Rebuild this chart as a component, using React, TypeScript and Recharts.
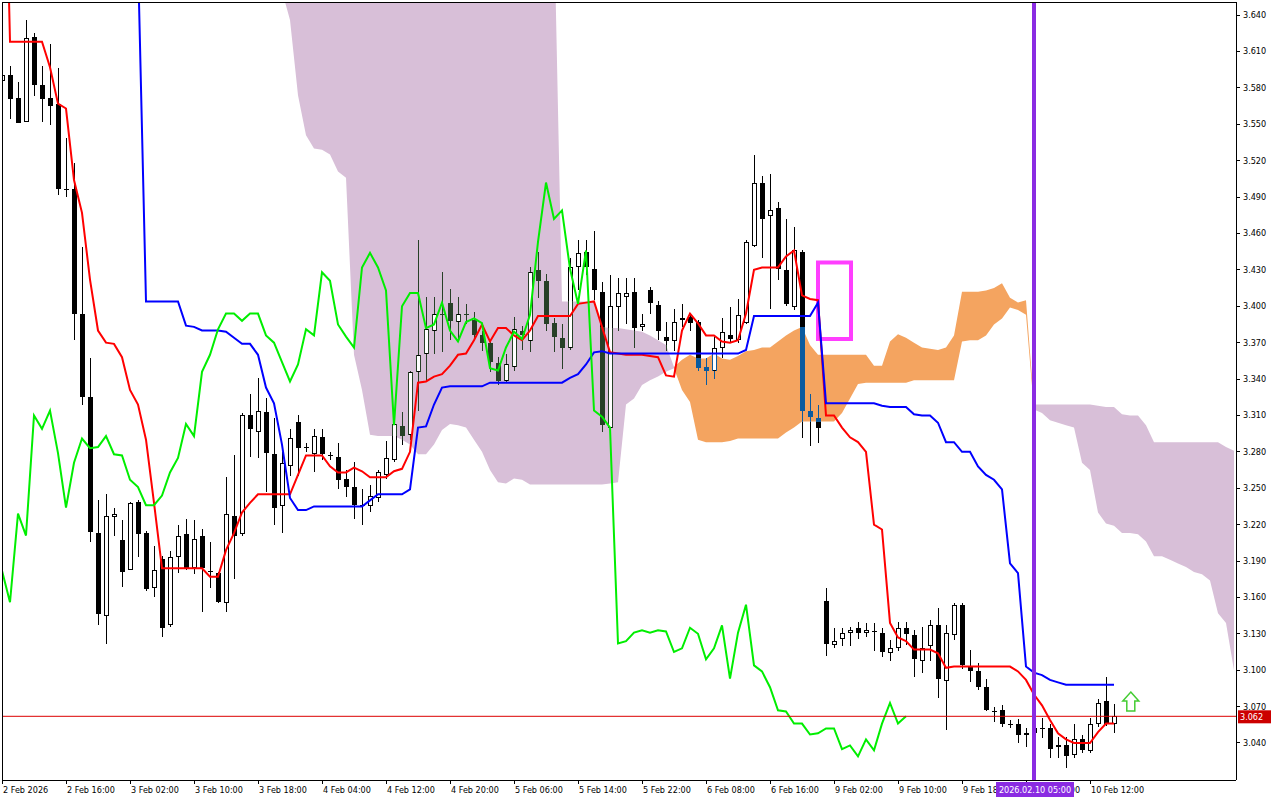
import React from 'react';
import {
  ComposedChart,
  XAxis,
  YAxis,
  Bar,
  Line,
  Area,
  ReferenceLine,
  ReferenceArea,
  ReferenceDot,
} from 'recharts';

const FONT = "'DejaVu Sans Condensed', 'DejaVu Sans', sans-serif";

// H1 candles (bar 0 = 2 Feb 2026)
const barOpen = [
  3.586, 3.591, 3.572, 3.552, 3.622, 3.582, 3.572, 3.567, 3.497, 3.497,
  3.394, 3.325, 3.213, 3.145, 3.226, 3.207, 3.183, 3.239, 3.213, 3.168,
  3.192, 3.137, 3.193, 3.212, 3.184, 3.211, 3.182, 3.180, 3.155, 3.227,
  3.212, 3.310, 3.296, 3.313, 3.278, 3.235, 3.268, 3.305, 3.284, 3.278,
  3.292, 3.277, 3.276, 3.258, 3.251, 3.236, 3.235, 3.242, 3.261, 3.273,
  3.301, 3.294, 3.346, 3.361, 3.380, 3.394, 3.403, 3.387, 3.394, 3.389,
  3.376, 3.370, 3.353, 3.338, 3.350, 3.380, 3.371, 3.430, 3.421, 3.386,
  3.374, 3.366, 3.432, 3.445, 3.431, 3.412, 3.300, 3.399, 3.408, 3.412,
  3.383, 3.413, 3.401, 3.375, 3.371, 3.389, 3.391, 3.387, 3.350, 3.347,
  3.366, 3.376, 3.372, 3.386, 3.450, 3.502, 3.474, 3.481, 3.430, 3.399,
  3.445, 3.314, 3.308, 3.157, 3.121, 3.126, 3.131, 3.135, 3.131, 3.132,
  3.131, 3.114, 3.118, 3.135, 3.129, 3.108, 3.120, 3.137, 3.091, 3.129,
  3.154, 3.103, 3.099, 3.086, 3.066, 3.067, 3.056, 3.056, 3.047, 3.048,
  3.052, 3.052, 3.037, 3.038, 3.030, 3.043, 3.033, 3.056, 3.075, 3.056,
];
const barHigh = [
  3.593, 3.598, 3.585, 3.636, 3.625, 3.598, 3.616, 3.596, 3.539, 3.518,
  3.449, 3.357, 3.240, 3.245, 3.234, 3.224, 3.239, 3.240, 3.215, 3.202,
  3.194, 3.198, 3.220, 3.225, 3.224, 3.216, 3.206, 3.181, 3.259, 3.277,
  3.312, 3.328, 3.341, 3.324, 3.308, 3.280, 3.299, 3.310, 3.287, 3.299,
  3.299, 3.280, 3.287, 3.265, 3.272, 3.249, 3.253, 3.265, 3.289, 3.313,
  3.313, 3.347, 3.455, 3.408, 3.408, 3.428, 3.414, 3.408, 3.402, 3.395,
  3.380, 3.372, 3.358, 3.361, 3.391, 3.384, 3.432, 3.445, 3.427, 3.390,
  3.385, 3.440, 3.455, 3.455, 3.462, 3.420, 3.426, 3.423, 3.423, 3.423,
  3.394, 3.416, 3.404, 3.387, 3.398, 3.402, 3.394, 3.389, 3.357, 3.375,
  3.390, 3.399, 3.406, 3.455, 3.525, 3.507, 3.509, 3.486, 3.472, 3.465,
  3.446, 3.328, 3.319, 3.168, 3.135, 3.135, 3.136, 3.140, 3.139, 3.139,
  3.135, 3.125, 3.140, 3.140, 3.133, 3.136, 3.141, 3.151, 3.137, 3.155,
  3.155, 3.117, 3.106, 3.093, 3.070, 3.071, 3.059, 3.060, 3.052, 3.058,
  3.061, 3.056, 3.045, 3.045, 3.056, 3.047, 3.061, 3.076, 3.094, 3.072,
];
const barLow = [
  3.585, 3.554, 3.551, 3.552, 3.573, 3.552, 3.549, 3.492, 3.490, 3.372,
  3.319, 3.206, 3.137, 3.122, 3.211, 3.169, 3.183, 3.193, 3.165, 3.160,
  3.127, 3.136, 3.180, 3.183, 3.179, 3.148, 3.168, 3.155, 3.148, 3.175,
  3.211, 3.276, 3.275, 3.247, 3.220, 3.213, 3.260, 3.260, 3.280, 3.263,
  3.273, 3.273, 3.249, 3.243, 3.225, 3.220, 3.230, 3.239, 3.258, 3.272,
  3.286, 3.290, 3.314, 3.339, 3.361, 3.362, 3.372, 3.373, 3.385, 3.372,
  3.363, 3.346, 3.335, 3.337, 3.347, 3.364, 3.362, 3.407, 3.380, 3.362,
  3.348, 3.364, 3.413, 3.426, 3.405, 3.296, 3.298, 3.380, 3.385, 3.366,
  3.380, 3.394, 3.372, 3.363, 3.363, 3.383, 3.380, 3.347, 3.335, 3.340,
  3.357, 3.370, 3.370, 3.385, 3.449, 3.440, 3.398, 3.422, 3.400, 3.397,
  3.291, 3.285, 3.287, 3.112, 3.118, 3.120, 3.120, 3.126, 3.127, 3.116,
  3.111, 3.108, 3.116, 3.121, 3.094, 3.098, 3.108, 3.077, 3.051, 3.125,
  3.101, 3.090, 3.084, 3.066, 3.057, 3.053, 3.052, 3.040, 3.037, 3.044,
  3.044, 3.028, 3.028, 3.019, 3.028, 3.032, 3.032, 3.053, 3.054, 3.048,
];
const barClose = [
  3.591, 3.571, 3.551, 3.621, 3.582, 3.571, 3.565, 3.497, 3.497, 3.394,
  3.325, 3.214, 3.146, 3.227, 3.229, 3.181, 3.238, 3.212, 3.167, 3.183,
  3.135, 3.193, 3.211, 3.184, 3.208, 3.184, 3.182, 3.156, 3.229, 3.211,
  3.310, 3.299, 3.314, 3.279, 3.234, 3.271, 3.291, 3.283, 3.284, 3.293,
  3.278, 3.277, 3.257, 3.251, 3.236, 3.236, 3.244, 3.263, 3.275, 3.303,
  3.293, 3.346, 3.360, 3.381, 3.394, 3.394, 3.388, 3.394, 3.394, 3.376,
  3.370, 3.354, 3.338, 3.352, 3.381, 3.376, 3.428, 3.421, 3.385, 3.375,
  3.366, 3.432, 3.444, 3.432, 3.413, 3.302, 3.400, 3.411, 3.411, 3.382,
  3.385, 3.403, 3.380, 3.371, 3.387, 3.390, 3.386, 3.349, 3.347, 3.366,
  3.379, 3.373, 3.393, 3.453, 3.502, 3.472, 3.479, 3.431, 3.402, 3.446,
  3.314, 3.309, 3.300, 3.122, 3.124, 3.131, 3.133, 3.131, 3.133, 3.132,
  3.115, 3.118, 3.135, 3.130, 3.109, 3.118, 3.137, 3.093, 3.131, 3.154,
  3.104, 3.099, 3.086, 3.067, 3.066, 3.056, 3.056, 3.047, 3.048, 3.052,
  3.052, 3.035, 3.038, 3.029, 3.043, 3.034, 3.056, 3.073, 3.056, 3.062,
];

// Ichimoku lines as drawn
const tenkan = [
  3.900, 3.618, 3.618, 3.618, 3.618, 3.618, 3.597, 3.567, 3.563, 3.504,
  3.477, 3.422, 3.380, 3.370, 3.369, 3.358, 3.331, 3.319, 3.290, 3.238,
  3.184, 3.184, 3.184, 3.184, 3.184, 3.184, 3.177, 3.177, 3.199, 3.213,
  3.230, 3.238, 3.245, 3.245, 3.245, 3.245, 3.245, 3.261, 3.277, 3.277,
  3.277, 3.268, 3.263, 3.263, 3.267, 3.264, 3.259, 3.259, 3.259, 3.264,
  3.266, 3.280, 3.337, 3.338, 3.342, 3.344, 3.351, 3.360, 3.361, 3.372,
  3.385, 3.371, 3.382, 3.382, 3.376, 3.372, 3.380, 3.392, 3.392, 3.392,
  3.392, 3.392, 3.402, 3.403, 3.404, 3.383, 3.362, 3.361, 3.360, 3.360,
  3.360, 3.359, 3.358, 3.343, 3.342, 3.380, 3.394, 3.386, 3.376, 3.376,
  3.371, 3.370, 3.372, 3.394, 3.430, 3.432, 3.432, 3.432, 3.441, 3.446,
  3.409, 3.406, 3.405, 3.310, 3.310, 3.300, 3.292, 3.288, 3.280, 3.220,
  3.216, 3.139, 3.127, 3.124, 3.117, 3.117, 3.117, 3.114, 3.102, 3.103,
  3.103, 3.103, 3.103, 3.103, 3.103, 3.103, 3.103, 3.099, 3.092, 3.080,
  3.071, 3.059, 3.048, 3.043, 3.040, 3.040, 3.040, 3.049, 3.056, 3.056,
];
const kijun = [
  null, null, null, null, null, null, null, null, null, null,
  null, null, null, null, null, null, null, 3.686, 3.404, 3.404,
  3.404, 3.404, 3.404, 3.384, 3.383, 3.380, 3.380, 3.380, 3.379, 3.374,
  3.369, 3.369, 3.360, 3.333, 3.320, 3.286, 3.242, 3.232, 3.232, 3.235,
  3.235, 3.235, 3.235, 3.235, 3.235, 3.235, 3.240, 3.245, 3.245, 3.245,
  3.245, 3.249, 3.300, 3.301, 3.319, 3.333, 3.334, 3.334, 3.334, 3.334,
  3.334, 3.337, 3.337, 3.337, 3.337, 3.337, 3.337, 3.337, 3.337, 3.337,
  3.337, 3.341, 3.344, 3.352, 3.362, 3.363, 3.361, 3.361, 3.361, 3.361,
  3.361, 3.361, 3.361, 3.361, 3.361, 3.361, 3.361, 3.361, 3.361, 3.361,
  3.361, 3.361, 3.361, 3.364, 3.392, 3.392, 3.392, 3.392, 3.392, 3.392,
  3.392, 3.392, 3.403, 3.320, 3.320, 3.320, 3.320, 3.320, 3.320, 3.320,
  3.318, 3.317, 3.317, 3.317, 3.311, 3.310, 3.310, 3.304, 3.288, 3.288,
  3.280, 3.280, 3.268, 3.261, 3.257, 3.249, 3.188, 3.180, 3.103, 3.098,
  3.096, 3.092, 3.090, 3.088, 3.088, 3.088, 3.088, 3.088, 3.088, 3.088,
];
// senkou spans at their drawn (shifted) position, 26 bars into the future
const spanA = [
  null, null, null, null, null, null, null, null, null, null,
  null, null, null, null, null, null, null, null, null, null,
  null, null, null, null, null, null, null, null, null, null,
  null, null, null, null, null, 3.660, 3.636, 3.574, 3.541, 3.530,
  3.529, 3.525, 3.511, 3.506, 3.360, 3.331, 3.294, 3.293, 3.293, 3.293,
  3.290, 3.286, 3.278, 3.278, 3.286, 3.298, 3.303, 3.302, 3.300, 3.290,
  3.280, 3.265, 3.255, 3.254, 3.258, 3.257, 3.253, 3.253, 3.253, 3.253,
  3.253, 3.253, 3.253, 3.253, 3.253, 3.253, 3.254, 3.255, 3.319, 3.324,
  3.335, 3.339, 3.342, 3.346, 3.349, 3.356, 3.360, 3.357, 3.357, 3.361,
  3.357, 3.356, 3.359, 3.363, 3.364, 3.366, 3.366, 3.371, 3.376, 3.380,
  3.383, 3.368, 3.360, 3.360, 3.360, 3.360, 3.360, 3.360, 3.360, 3.351,
  3.351, 3.371, 3.377, 3.374, 3.370, 3.366, 3.365, 3.364, 3.366, 3.376,
  3.412, 3.412, 3.412, 3.413, 3.415, 3.419, 3.407, 3.403, 3.405, 3.315,
  3.312, 3.306, 3.304, 3.302, 3.300, 3.271, 3.265, 3.230, 3.221, 3.219,
  3.213, 3.213, 3.212, 3.206, 3.194, 3.194, 3.191, 3.188, 3.185, 3.181,
  3.179, 3.174, 3.147, 3.139, 3.100,
];
const spanB = [
  null, null, null, null, null, null, null, null, null, null,
  null, null, null, null, null, null, null, null, null, null,
  null, null, null, null, null, null, null, null, null, null,
  null, null, null, null, null, 3.720, 3.720, 3.720, 3.720, 3.720,
  3.720, 3.720, 3.720, 3.720, 3.720, 3.720, 3.720, 3.720, 3.720, 3.720,
  3.720, 3.720, 3.720, 3.720, 3.720, 3.720, 3.720, 3.720, 3.720, 3.720,
  3.720, 3.720, 3.720, 3.720, 3.720, 3.720, 3.720, 3.720, 3.720, 3.720,
  3.404, 3.404, 3.404, 3.404, 3.404, 3.383, 3.382, 3.382, 3.381, 3.380,
  3.379, 3.376, 3.372, 3.368, 3.350, 3.331, 3.321, 3.290, 3.288, 3.288,
  3.288, 3.289, 3.291, 3.291, 3.291, 3.291, 3.291, 3.291, 3.296, 3.300,
  3.305, 3.305, 3.305, 3.305, 3.305, 3.312, 3.324, 3.336, 3.337, 3.337,
  3.337, 3.337, 3.337, 3.337, 3.339, 3.339, 3.339, 3.339, 3.339, 3.339,
  3.371, 3.372, 3.372, 3.376, 3.385, 3.390, 3.399, 3.397, 3.393, 3.319,
  3.319, 3.319, 3.319, 3.319, 3.319, 3.319, 3.319, 3.318, 3.317, 3.317,
  3.311, 3.310, 3.310, 3.302, 3.288, 3.288, 3.288, 3.288, 3.288, 3.288,
  3.288, 3.288, 3.288, 3.284, 3.281,
];

const timeTicks = [0, 8, 16, 24, 32, 40, 48, 56, 64, 72, 80, 88, 96, 104, 112, 120, 128, 136];
const timeLabels = [
  '2 Feb 2026', '2 Feb 16:00', '3 Feb 02:00', '3 Feb 10:00', '3 Feb 18:00', '4 Feb 04:00',
  '4 Feb 12:00', '4 Feb 20:00', '5 Feb 06:00', '5 Feb 14:00', '5 Feb 22:00', '6 Feb 08:00',
  '6 Feb 16:00', '9 Feb 02:00', '9 Feb 10:00', '9 Feb 18:00', '10 Feb 04:00', '10 Feb 12:00',
];
const priceTicks = [
  3.04, 3.07, 3.1, 3.13, 3.16, 3.19, 3.22, 3.25, 3.28, 3.31, 3.34,
  3.37, 3.4, 3.43, 3.46, 3.49, 3.52, 3.55, 3.58, 3.61, 3.64,
];

const lastPrice = 3.062;
const markerBar = 129;
const markerLabel = '2026.02.10 05:00';
const boxBars = [102, 106.125];
const boxPrices = [3.373, 3.436];
const arrowAt = { bar: 141.1, price: 3.0746 };
const CHIKOU_SHIFT = 26;
const TOTAL_BARS = spanA.length;

const ORANGE = '#F4A460';
const THISTLE = '#D8BFD8';

const isOrange = (k: number) =>
  spanA[k] != null && spanB[k] != null && (spanA[k] as number) >= (spanB[k] as number);
const isThistle = (k: number) =>
  spanA[k] != null && spanB[k] != null && (spanB[k] as number) > (spanA[k] as number);

const rows = Array.from({ length: TOTAL_BARS }, (_, i) => {
  const has = i < barClose.length;
  const a = spanA[i];
  const b = spanB[i];
  const lo = a != null && b != null ? Math.min(a, b) : null;
  const hi = a != null && b != null ? Math.max(a, b) : null;
  return {
    i,
    range: has ? [barLow[i], barHigh[i]] : null,
    o: has ? barOpen[i] : null,
    h: has ? barHigh[i] : null,
    l: has ? barLow[i] : null,
    c: has ? barClose[i] : null,
    a,
    b,
    tenkan: has ? tenkan[i] : null,
    kijun: has ? kijun[i] : null,
    chikou: i + CHIKOU_SHIFT < barClose.length ? barClose[i + CHIKOU_SHIFT] : null,
    thistle: isThistle(i) ? [lo, hi] : null,
    orange: lo != null && (isOrange(i) || isOrange(i - 1) || isOrange(i + 1)) ? [lo, hi] : null,
  };
});

const Candle = (props: any) => {
  const { x, y, width, height, payload } = props;
  if (!payload || payload.o == null || x == null || y == null) return null;
  const { o, h, l, c, a, b } = payload;
  const top = Math.min(y, y + height);
  const bottom = Math.max(y, y + height);
  const span = h - l || 1;
  const py = (p: number) => top + ((h - p) / span) * (bottom - top);
  const cx = Math.round(x + width / 2);
  const wx = cx + 0.5;
  const bull = c > o;
  const bTop = Math.round(py(Math.max(o, c)));
  const bBot = Math.max(bTop + 1, Math.round(py(Math.min(o, c))));
  const wTop = Math.round(py(h));
  const wBot = Math.round(py(l));
  const hollow = bull && bBot - bTop > 2;

  // parts of a candle lying inside the cloud come out in the inverse colour
  let ink: string | null = null;
  let cHi = 0;
  let cLo = 0;
  if (a != null && b != null) {
    ink = a >= b ? '#0B5B9F' : '#274027';
    cHi = Math.round(py(Math.max(a, b)));
    cLo = Math.round(py(Math.min(a, b)));
  }
  const clipSeg = (s: number, e: number) => {
    const s2 = Math.max(s, cHi);
    const e2 = Math.min(e, cLo);
    return ink && e2 > s2 ? [s2, e2] : null;
  };
  const wSeg = clipSeg(wTop, wBot);
  const bSeg = clipSeg(bTop, bBot);

  return (
    <g shapeRendering="crispEdges">
      <line x1={wx} y1={wTop} x2={wx} y2={wBot} stroke="#000" strokeWidth={1} />
      {wSeg && <line x1={wx} y1={wSeg[0]} x2={wx} y2={wSeg[1]} stroke={ink!} strokeWidth={1} />}
      {hollow ? (
        <rect x={cx - 1.5} y={bTop + 0.5} width={4} height={bBot - bTop - 1} fill="#fff" stroke="#000" />
      ) : (
        <rect x={cx - 2} y={bTop} width={5} height={bBot - bTop} fill="#000" />
      )}
      {bSeg && !hollow && (
        <rect x={cx - 2} y={bSeg[0]} width={5} height={bSeg[1] - bSeg[0]} fill={ink!} />
      )}
      {bSeg && hollow && (
        <g stroke={ink!} strokeWidth={1}>
          <line x1={cx - 1.5} y1={bSeg[0]} x2={cx - 1.5} y2={bSeg[1]} />
          <line x1={cx + 2.5} y1={bSeg[0]} x2={cx + 2.5} y2={bSeg[1]} />
        </g>
      )}
    </g>
  );
};

// time labels; the marker bar gets the purple date tag, drawn after the labels it covers
const TimeTick = (props: any) => {
  const { x, y, payload } = props;
  if (payload.value === markerBar) {
    return (
      <g>
        <rect x={x - 38} y={y + 2} width={78} height={15} fill="#8A2BE2" />
        <text x={x + 1} y={y + 13} fontSize={9} fontFamily={FONT} fill="#fff" textAnchor="middle">
          {markerLabel}
        </text>
      </g>
    );
  }
  const idx = timeTicks.indexOf(payload.value);
  return (
    <g>
      <line x1={x + 0.5} y1={y} x2={x + 0.5} y2={y + 4} stroke="#000" shapeRendering="crispEdges" />
      <text x={x + 1} y={y + 13} fontSize={9} fontFamily={FONT} fill="#000">
        {idx >= 0 ? timeLabels[idx] : ''}
      </text>
    </g>
  );
};

const PriceTick = (props: any) => {
  const { x, y, payload } = props;
  return (
    <text x={x} y={y + 3} fontSize={9} fontFamily={FONT} fill="#000">
      {Number(payload.value).toFixed(3)}
    </text>
  );
};

const PriceTag = (props: any) => {
  const vb = props.viewBox || {};
  const left = vb.x + vb.width + 2;
  return (
    <g>
      <rect x={left} y={vb.y - 6} width={33} height={13} fill="#CC0000" />
      <text x={left + 2} y={vb.y + 4} fontSize={9} fontFamily={FONT} fill="#fff">
        {lastPrice.toFixed(3)}
      </text>
    </g>
  );
};

const UpArrow = (props: any) => {
  const { cx, cy } = props;
  if (cx == null || cy == null) return null;
  const d = `M ${cx} ${cy - 9} L ${cx + 8} ${cy} L ${cx + 4} ${cy} L ${cx + 4} ${cy + 10} L ${cx - 4} ${cy + 10} L ${cx - 4} ${cy} L ${cx - 8} ${cy} Z`;
  return <path d={d} fill="#fff" stroke="#44CC33" strokeWidth={1.5} />;
};

export default function App() {
  return (
    <div style={{ position: 'absolute', left: 0, top: 0, width: 1280, height: 800, background: '#fff' }}>
      <ComposedChart width={1280} height={800} data={rows} margin={{ top: 2, right: 0, bottom: 0, left: 2 }}>
        <XAxis
          dataKey="i"
          type="number"
          domain={[0, 154.25]}
          allowDataOverflow
          ticks={[...timeTicks, markerBar]}
          interval={0}
          tick={<TimeTick />}
          tickLine={false}
          tickSize={0}
          tickMargin={0}
          height={20}
          axisLine={{ stroke: '#000', shapeRendering: 'crispEdges' }}
        />
        <YAxis
          orientation="right"
          type="number"
          domain={[3.0095, 3.6508]}
          allowDataOverflow
          ticks={priceTicks}
          interval={0}
          width={44}
          tickSize={4}
          tickMargin={3}
          tick={<PriceTick />}
          tickLine={{ stroke: '#000', shapeRendering: 'crispEdges' }}
          axisLine={{ stroke: '#000', shapeRendering: 'crispEdges' }}
        />
        <Area dataKey="thistle" type="linear" stroke="none" fill={THISTLE} fillOpacity={1} isAnimationActive={false} />
        <Area dataKey="orange" type="linear" stroke="none" fill={ORANGE} fillOpacity={1} isAnimationActive={false} />
        <Bar dataKey="range" barSize={5} shape={Candle} isAnimationActive={false} />
        <Line dataKey="tenkan" type="linear" stroke="#FF0000" strokeWidth={2} dot={false} isAnimationActive={false} />
        <Line dataKey="kijun" type="linear" stroke="#0000FF" strokeWidth={2} dot={false} isAnimationActive={false} />
        <Line dataKey="chikou" type="linear" stroke="#00EE00" strokeWidth={2} dot={false} isAnimationActive={false} />
        <ReferenceLine y={lastPrice} stroke="#DD0000" strokeWidth={1} label={PriceTag} />
        <ReferenceArea
          x1={boxBars[0]}
          x2={boxBars[1]}
          y1={boxPrices[0]}
          y2={boxPrices[1]}
          fill="none"
          fillOpacity={0}
          stroke="#FF3EFF"
          strokeWidth={4}
          strokeOpacity={1}
        />
        <ReferenceDot x={arrowAt.bar} y={arrowAt.price} r={1} shape={UpArrow} />
        <ReferenceLine x={markerBar} stroke="#8A2BE2" strokeWidth={4} />
      </ComposedChart>
      <div
        style={{
          position: 'absolute',
          left: 2,
          top: 2,
          width: 1234,
          height: 778,
          borderTop: '1px solid #000',
          borderLeft: '1px solid #000',
          boxSizing: 'border-box',
          pointerEvents: 'none',
        }}
      />
    </div>
  );
}
